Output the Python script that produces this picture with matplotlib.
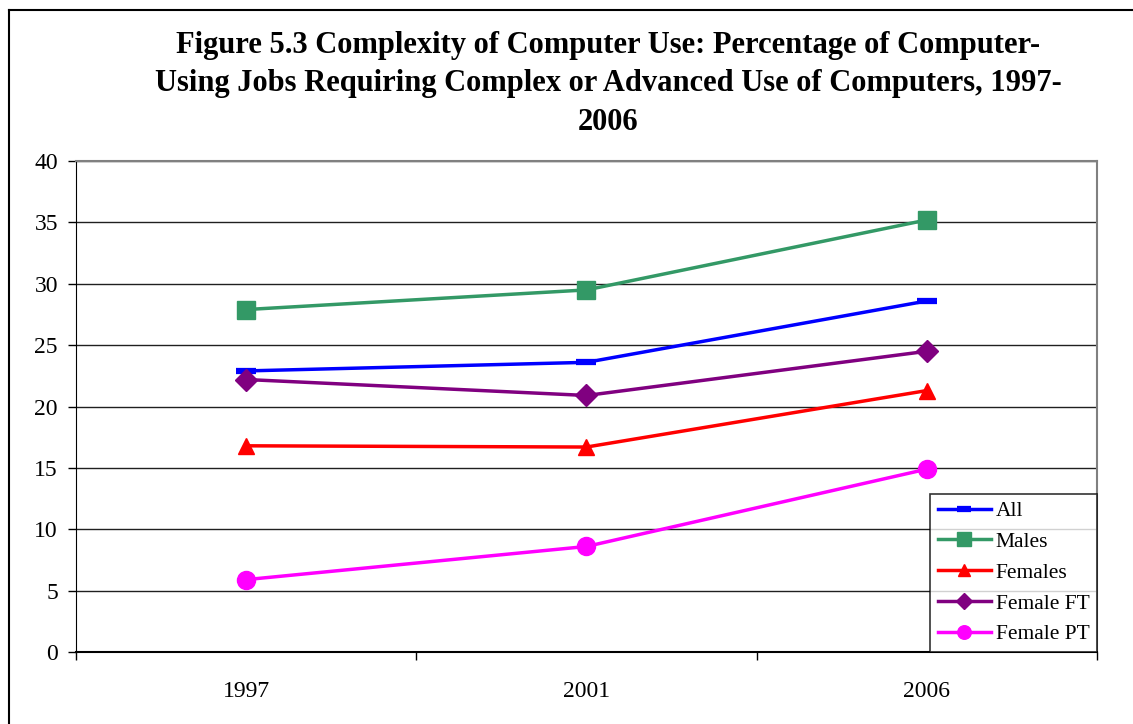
import matplotlib
matplotlib.use("Agg")
import matplotlib.pyplot as plt
from matplotlib.lines import Line2D

# data
years = ["1997", "2001", "2006"]
all_jobs = [22.9, 23.6, 28.6]
males = [27.9, 29.5, 35.2]
females = [16.8, 16.7, 21.3]
female_ft = [22.2, 20.9, 24.5]
female_pt = [5.9, 8.6, 14.9]

plt.rcParams['font.family'] = ['Liberation Serif', 'DejaVu Serif']

fig = plt.figure(figsize=(11.33, 7.24), dpi=100)
ax = fig.add_axes([0.0671, 0.0994, 0.9011, 0.6782])

x = [i + 0.5 for i in range(len(years))]
lw = 2.5
ax.plot(x, all_jobs, color="#0000FF", lw=lw, marker="_", ms=14, mew=4.5, label="All")
ax.plot(x, males, color="#339966", lw=lw, marker="s", ms=13, label="Males")
ax.plot(x, females, color="#FF0000", lw=lw, marker="^", ms=11, label="Females")
ax.plot(x, female_ft, color="#800080", lw=lw, marker="D", ms=11, label="Female FT")
ax.plot(x, female_pt, color="#FF00FF", lw=lw, marker="o", ms=13, label="Female PT")

ax.set_xlim(0, 3)
ax.set_ylim(0, 40)
ax.set_yticks(range(0, 41, 5))
ax.yaxis.grid(True, color="#202020", lw=1)
ax.set_axisbelow(True)

ax.set_xticks(x)
ax.set_xticklabels(years)
ax.set_xticks([0, 1, 2, 3], minor=True)
ax.tick_params(axis="x", which="major", length=0, pad=21, labelsize=17)
ax.tick_params(axis="x", which="minor", length=6, width=1, direction="out", color="black")
ax.tick_params(axis="y", length=6, width=1, direction="out", pad=7, labelsize=17)

ax.spines["left"].set_color("black")
ax.spines["bottom"].set_color("black")
ax.spines["bottom"].set_linewidth(1.5)
ax.spines["top"].set_color("#808080")
ax.spines["right"].set_color("#808080")
ax.spines["top"].set_linewidth(1.5)
ax.spines["right"].set_linewidth(1.5)

leg = ax.legend(loc="lower right", bbox_to_anchor=(1, 0), borderaxespad=0,
                fontsize=15.5, handlelength=2.5, handletextpad=0.2,
                labelspacing=0.5, borderpad=0.35, fancybox=False, markerscale=0.75)
leg.get_frame().set_edgecolor("black")
leg.get_frame().set_linewidth(1.2)

fig.text(0.537, 0.884, "Figure 5.3 Complexity of Computer Use: Percentage of Computer-\n"
         "Using Jobs Requiring Complex or Advanced Use of Computers, 1997-\n2006",
         ha="center", va="center", fontsize=22, fontweight="bold", linespacing=1.42)

# outer frame (left and top edges only are visible)
fig.add_artist(Line2D([9 / 1133, 9 / 1133], [0, 1 - 10 / 724], transform=fig.transFigure,
                      color="black", lw=1.5))
fig.add_artist(Line2D([9 / 1133, 1], [1 - 10 / 724, 1 - 10 / 724], transform=fig.transFigure,
                      color="black", lw=1.5))

fig.savefig("out.png", dpi=100)
